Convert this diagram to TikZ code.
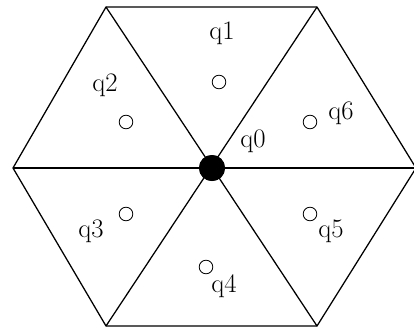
\documentclass[tikz,border=0pt]{standalone}
\usetikzlibrary{positioning}

\begin{document}
\begin{tikzpicture}[
    x=0.25mm, y=-0.25mm,
    edge/.style={draw=black, line width=0.9pt},
    hub/.style={circle, fill=black, inner sep=0pt, minimum size=6.5mm},
    site/.style={circle, draw=black, line width=0.6pt, inner sep=0pt, minimum size=3.4mm},
    lab/.style={font=\fontsize{19}{21}\selectfont, inner sep=0pt}
]
    \useasboundingbox (0,0) rectangle (414,328);

    % hexagon corners
    \coordinate (tl) at (106,7);
    \coordinate (tr) at (317,7);
    \coordinate (r)  at (416,168);
    \coordinate (br) at (317,326);
    \coordinate (bl) at (106,326);
    \coordinate (l)  at (13,168);

    \node[hub] (q0) at (212,168) {};

    \draw[edge] (tl) -- (tr) -- (r) -- (br) -- (bl) -- (l) -- cycle;
    \draw[edge] (l) -- (r);
    \draw[edge] (tl) -- (br);
    \draw[edge] (tr) -- (bl);
    \node[hub] at (q0) {};

    % sites
    \node[site] (s1) at (219,82) {};
    \node[site] (s2) at (126,122) {};
    \node[site] (s3) at (126,214) {};
    \node[site] (s4) at (206,267) {};
    \node[site] (s5) at (310,214) {};
    \node[site] (s6) at (310,122) {};

    \node[lab] (l0) at (253,141) {q0};
    \node[lab] (l1) at (222,33) {q1};
    \node[lab] (l2) at (105,85) {q2};
    \node[lab] (l3) at (91,231) {q3};
    \node[lab] (l4) at (224,286) {q4};
    \node[lab] (l5) at (331,231) {q5};
    \node[lab] (l6) at (341,113) {q6};
\end{tikzpicture}
\end{document}
